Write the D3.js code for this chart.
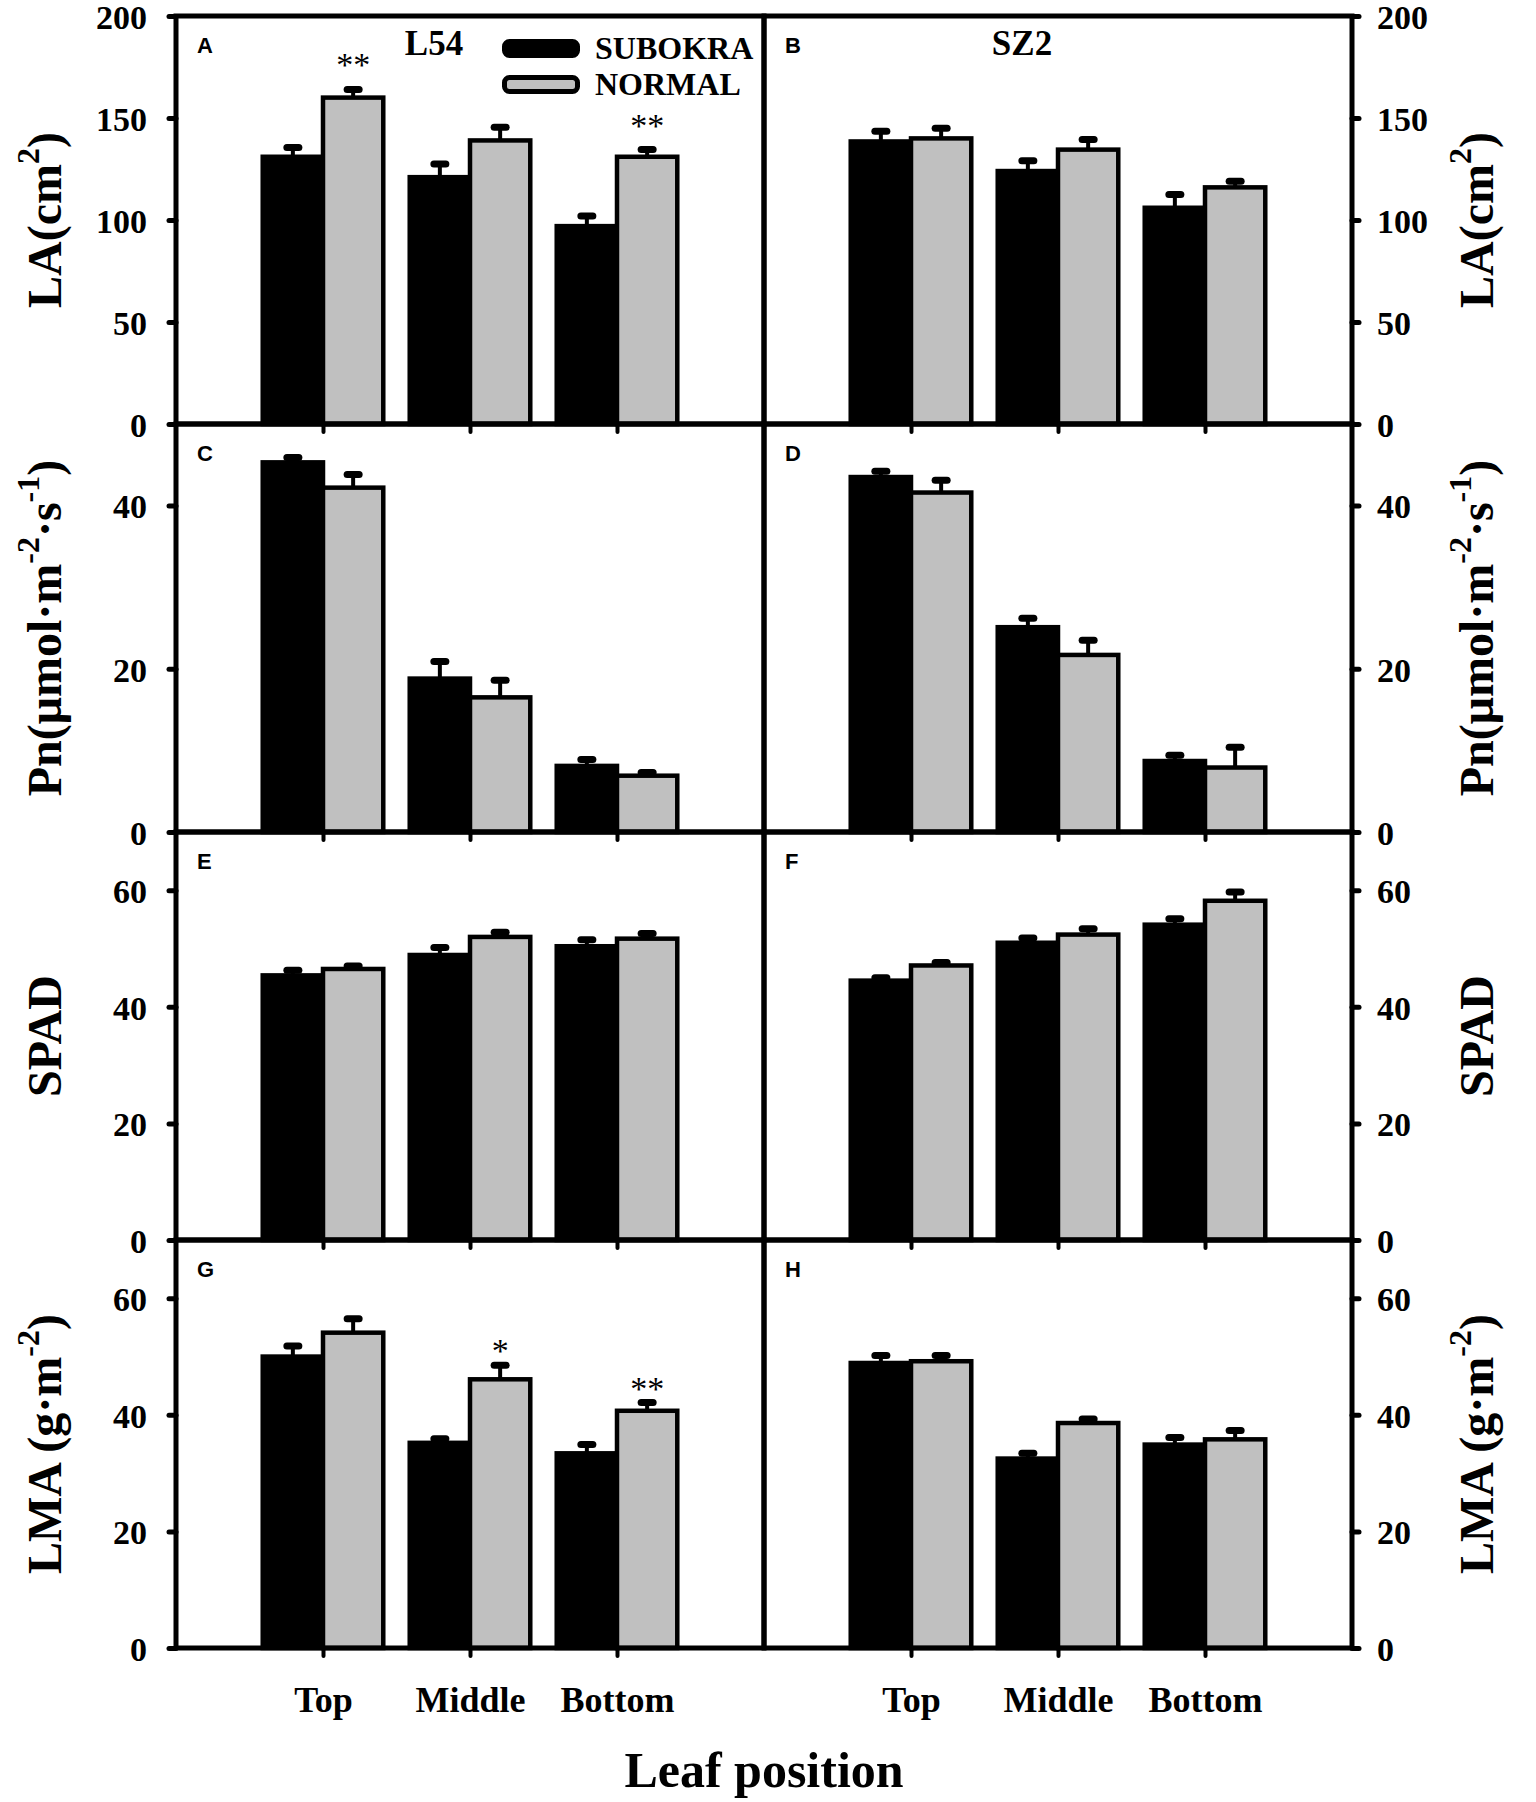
<!DOCTYPE html>
<html>
<head>
<meta charset="utf-8">
<script src="https://cdn.jsdelivr.net/npm/d3@7"></script>
<style>
  body { margin: 0; background: #fff; }
  svg { display: block; }
</style>
</head>
<body>
<div id="chart"></div>
<script>
// leaf positions and treatments
const categories = ['Top', 'Middle', 'Bottom'];
const series = ['SUBOKRA', 'NORMAL'];
const genotypes = ['L54', 'SZ2'];
const panelLetters = ['A', 'B', 'C', 'D', 'E', 'F', 'G', 'H'];

// means per leaf position: [SUBOKRA, NORMAL]
const laL54 = [[131, 160], [121, 139], [97, 131]];
const laL54Err = [[4.5, 4], [6.5, 6.5], [5, 3.5]];
const laSZ2 = [[138.5, 140], [124, 134.5], [106, 116]];
const laSZ2Err = [[5, 5], [5, 5], [6.5, 3]];

const pnL54 = [[45.3, 42.2], [18.8, 16.5], [8.1, 6.9]];
const pnL54Err = [[0.6, 1.6], [2.1, 2.1], [0.8, 0.4]];
const pnSZ2 = [[43.5, 41.6], [25.1, 21.7], [8.7, 7.9]];
const pnSZ2Err = [[0.7, 1.5], [1.1, 1.8], [0.7, 2.5]];

const spadL54 = [[45.4, 46.5], [48.9, 52.0], [50.4, 51.7]];
const spadL54Err = [[0.9, 0.5], [1.3, 0.8], [1.1, 0.9]];
const spadSZ2 = [[44.5, 47.1], [51.0, 52.4], [54.1, 58.2]];
const spadSZ2Err = [[0.5, 0.5], [0.8, 1.0], [1.0, 1.5]];

const lmaL54 = [[50.0, 54.1], [35.2, 46.1], [33.4, 40.7]];
const lmaL54Err = [[1.8, 2.4], [0.7, 2.4], [1.5, 1.4]];
const lmaSZ2 = [[48.9, 49.2], [32.5, 38.6], [34.9, 35.8]];
const lmaSZ2Err = [[1.3, 1.0], [0.9, 0.7], [1.2, 1.5]];

// y axes
const yMax = [200, 50, 70, 70];
const laTicks = [0, 50, 100, 150, 200];
const pnTicks = [0, 20, 40];
const spadTicks = [0, 20, 40, 60];
const lmaTicks = [0, 20, 40, 60];

// axis titles, [text, superscript?]
const laTitle = [['LA(cm', false], ['2', true], [')', false]];
const pnTitle = [['Pn(\u03bcmol\u00b7m', false], ['-2', true], ['\u00b7s', false], ['-1', true], [')', false]];
const spadTitle = [['SPAD', false]];
const lmaTitle = [['LMA (g\u00b7m', false], ['-2', true], [')', false]];

// significance marks
const sigPanel = ['A', 'A', 'G', 'G'];
const sigPos = ['Top', 'Bottom', 'Middle', 'Bottom'];
const sigMark = ['**', '**', '*', '**'];

const rows = [
  { means: [laL54, laSZ2], errs: [laL54Err, laSZ2Err], ticks: laTicks, title: laTitle },
  { means: [pnL54, pnSZ2], errs: [pnL54Err, pnSZ2Err], ticks: pnTicks, title: pnTitle },
  { means: [spadL54, spadSZ2], errs: [spadL54Err, spadSZ2Err], ticks: spadTicks, title: spadTitle },
  { means: [lmaL54, lmaSZ2], errs: [lmaL54Err, lmaSZ2Err], ticks: lmaTicks, title: lmaTitle }
];

const width = 1536;
const height = 1802;
const colLeft = [176, 764];
const colW = 588;
const rowTop = 16;
const rowH = 408;
const sigGap = [13, 8, 8, 3]; // px between error cap and star baseline, per row
const serif = '"Liberation Serif", "Times New Roman", serif';
const sans = '"Liberation Sans", Arial, sans-serif';
const colors = { SUBOKRA: '#000', NORMAL: '#c0c0c0' };

const svg = d3.select('#chart')
  .append('svg')
  .attr('width', width)
  .attr('height', height);

const addTitle = (parts, x, y) => {
  const t = svg.append('text')
    .attr('transform', 'translate(' + x + ',' + y + ') rotate(-90)')
    .attr('text-anchor', 'middle')
    .attr('font-family', serif)
    .attr('font-weight', 'bold')
    .attr('font-size', 48);
  let shifted = false;
  parts.forEach(p => {
    const ts = t.append('tspan').text(p[0]);
    if (p[1]) {
      ts.attr('font-size', 32).attr('dy', -22);
      shifted = true;
    } else if (shifted) {
      ts.attr('dy', 22);
      shifted = false;
    }
  });
};

rows.forEach((row, i) => {
  const top = rowTop + i * rowH;
  const y = d3.scaleLinear().domain([0, yMax[i]]).range([top + rowH, top]);

  genotypes.forEach((gt, j) => {
    const x0 = colLeft[j];
    const x = d3.scaleLinear().domain([0, 4]).range([x0, x0 + colW]);
    const bw = (x(1) - x(0)) * 0.41;
    const sub = d3.scaleBand().domain(series).range([-bw, bw]);
    const letter = panelLetters[i * 2 + j];

    const bars = [];
    categories.forEach((c, k) => {
      series.forEach((s, m) => {
        bars.push({ c: c, s: s, pos: k + 1, v: row.means[j][k][m], e: row.errs[j][k][m] });
      });
    });
    const cx = d => x(d.pos) + sub(d.s) + sub.bandwidth() / 2;

    const g = svg.append('g');

    g.selectAll('rect.bar')
      .data(bars)
      .enter()
      .append('rect')
      .attr('class', 'bar')
      .attr('x', d => x(d.pos) + sub(d.s))
      .attr('width', sub.bandwidth())
      .attr('y', d => y(d.v))
      .attr('height', d => y(0) - y(d.v))
      .attr('fill', d => colors[d.s])
      .attr('stroke', '#000')
      .attr('stroke-width', 4.5);

    // error bars, upper half only
    g.selectAll('line.err')
      .data(bars)
      .enter()
      .append('line')
      .attr('class', 'err')
      .attr('x1', cx)
      .attr('x2', cx)
      .attr('y1', d => y(d.v))
      .attr('y2', d => y(d.v + d.e))
      .attr('stroke', '#000')
      .attr('stroke-width', 4);

    g.selectAll('line.cap')
      .data(bars)
      .enter()
      .append('line')
      .attr('class', 'cap')
      .attr('x1', d => cx(d) - 6)
      .attr('x2', d => cx(d) + 6)
      .attr('y1', d => y(d.v + d.e))
      .attr('y2', d => y(d.v + d.e))
      .attr('stroke', '#000')
      .attr('stroke-width', 7)
      .attr('stroke-linecap', 'round');

    // significance
    sigPanel.forEach((p, n) => {
      if (p !== letter) return;
      const b = bars.find(d => d.c === sigPos[n] && d.s === 'NORMAL');
      g.append('text')
        .attr('x', cx(b))
        .attr('y', y(b.v + b.e) - sigGap[i])
        .attr('text-anchor', 'middle')
        .attr('font-family', serif)
        .attr('font-size', 34)
        .text(sigMark[n]);
    });

    // frame
    g.append('rect')
      .attr('x', x0)
      .attr('y', top)
      .attr('width', colW)
      .attr('height', rowH)
      .attr('fill', 'none')
      .attr('stroke', '#000')
      .attr('stroke-width', 5);

    // x ticks
    const xAxis = g.append('g')
      .attr('transform', 'translate(0,' + (top + rowH) + ')')
      .call(d3.axisBottom(x).tickValues([1, 2, 3]).tickSize(8).tickFormat((d, k) => i === rows.length - 1 ? categories[k] : '').tickPadding(30));
    xAxis.select('.domain').remove();
    xAxis.selectAll('line').attr('stroke-width', 4).attr('stroke-linecap', 'round');
    xAxis.selectAll('text')
      .attr('font-family', serif)
      .attr('font-weight', 'bold')
      .attr('font-size', 36)
      .attr('fill', '#000');

    // y axis
    const yAxisFn = j === 0 ? d3.axisLeft(y).tickPadding(22) : d3.axisRight(y).tickPadding(18);
    const yAxis = g.append('g')
      .attr('transform', 'translate(' + (j === 0 ? x0 : x0 + colW) + ',0)')
      .call(yAxisFn.tickValues(row.ticks).tickSize(7));
    yAxis.select('.domain').remove();
    yAxis.selectAll('line').attr('stroke-width', 5).attr('stroke-linecap', 'round');
    yAxis.selectAll('text')
      .attr('font-family', serif)
      .attr('font-weight', 'bold')
      .attr('font-size', 34)
      .attr('dy', '0.36em')
      .attr('fill', '#000');

    // panel letter
    g.append('text')
      .attr('x', x0 + 21)
      .attr('y', top + 37)
      .attr('font-family', sans)
      .attr('font-weight', 'bold')
      .attr('font-size', 22)
      .text(letter);

    if (i === 0) {
      g.append('text')
        .attr('x', x0 + 258)
        .attr('y', top + 39)
        .attr('text-anchor', 'middle')
        .attr('font-family', serif)
        .attr('font-weight', 'bold')
        .attr('font-size', 35)
        .text(gt);
    }
  });

  addTitle(row.title, 61, top + rowH / 2);
  addTitle(row.title, 1493, top + rowH / 2);
});

// legend
const legend = svg.append('g').attr('transform', 'translate(502,39)');
series.forEach((s, k) => {
  legend.append('rect')
    .attr('x', 2.5)
    .attr('y', k * 36 + 2.5)
    .attr('width', 73)
    .attr('height', 14)
    .attr('rx', 5)
    .attr('fill', colors[s])
    .attr('stroke', '#000')
    .attr('stroke-width', 5);
  legend.append('text')
    .attr('x', 93)
    .attr('y', k * 36 + 20)
    .attr('font-family', serif)
    .attr('font-weight', 'bold')
    .attr('font-size', 32)
    .text(s);
});

// shared x title
svg.append('text')
  .attr('x', 764)
  .attr('y', 1787)
  .attr('text-anchor', 'middle')
  .attr('font-family', serif)
  .attr('font-weight', 'bold')
  .attr('font-size', 50)
  .text('Leaf position');
</script>
</body>
</html>
